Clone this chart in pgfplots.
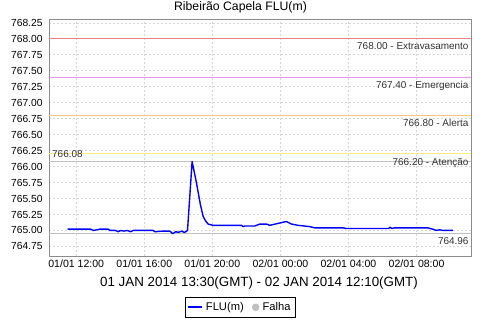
\documentclass[border=0pt]{standalone}
\usepackage{fontspec}
\setmainfont{Liberation Sans}
\usepackage{pgfplots}
\pgfplotsset{compat=1.18}
\definecolor{thrRed}{RGB}{230,130,130}
\definecolor{thrViolet}{RGB}{230,150,230}
\definecolor{thrOrange}{RGB}{255,195,125}
\definecolor{thrYellow}{RGB}{255,236,130}
\definecolor{mmGray}{RGB}{192,192,192}
\definecolor{gridGray}{RGB}{215,215,215}
\definecolor{axGray}{RGB}{140,140,140}
\begin{document}
\begin{tikzpicture}
\path[use as bounding box, fill=white] (0,0) rectangle (480bp,320bp);
\node[anchor=base, inner sep=0pt, font=\fontsize{12.3}{14}\selectfont] at (240.5bp,309.7bp) {Ribeirão Capela FLU(m)};
\begin{axis}[
  at={(49bp,64bp)}, anchor=south west,
  scale only axis, width=422bp, height=237bp,
  xmin=10.4, xmax=35.2, ymin=764.60, ymax=768.31,
  xtick={12,16,20,24,28,32},
  xticklabels={01/01 12:00,01/01 16:00,01/01 20:00,02/01 00:00,02/01 04:00,02/01 08:00},
  ytick={764.75,765,765.25,765.5,765.75,766,766.25,766.5,766.75,767,767.25,767.5,767.75,768,768.25},
  /pgf/number format/assume math mode=true,
  yticklabel style={/pgf/number format/fixed, /pgf/number format/fixed zerofill, /pgf/number format/precision=2, /pgf/number format/1000 sep={}, anchor=east, inner sep=0pt, xshift=-6.3bp, font=\fontsize{10.3}{12}\selectfont},
  xticklabel style={anchor=base, inner sep=0pt, yshift=-11.3bp, font=\fontsize{10.6}{12}\selectfont},
  major tick length=0pt,
  grid=major,
  major grid style={dash pattern=on 2bp off 2bp, color=gridGray, line width=0.6bp},
  axis line style={color=axGray, line width=0.8bp},
  xlabel={01 JAN 2014 13:30(GMT) - 02 JAN 2014 12:10(GMT)},
  xlabel style={at={(axis description cs:0.4976,0)}, anchor=base, inner sep=0pt, yshift=-30.6bp, font=\fontsize{13.4}{15}\selectfont},
  legend columns=2,
  legend style={at={(axis description cs:0.4534,-0.2165)}, anchor=center, draw=black, line width=0.8bp, inner xsep=1.5bp, inner ysep=0.5bp, font=\fontsize{11.2}{13}\selectfont, nodes={inner xsep=3bp, inner ysep=5bp}, /tikz/every even column/.append style={column sep=5bp}},
  legend cell align=left,
]
% thresholds
\addplot[forget plot, color=thrRed, line width=1bp] coordinates {(10.4,768.00) (35.2,768.00)};
\addplot[forget plot, color=thrViolet, line width=1bp] coordinates {(10.4,767.40) (35.2,767.40)};
\addplot[forget plot, color=thrOrange, line width=1bp] coordinates {(10.4,766.80) (35.2,766.80)};
\addplot[forget plot, color=thrYellow, line width=1bp] coordinates {(10.4,766.20) (35.2,766.20)};
% max / min
\addplot[forget plot, color=mmGray, line width=1bp] coordinates {(10.4,766.08) (35.2,766.08)};
\addplot[forget plot, color=mmGray, line width=1bp] coordinates {(10.4,764.96) (35.2,764.96)};
% series
\addplot[color=blue, line width=1.4bp, line join=round,
  legend image code/.code={\draw[blue, line width=1.8bp] (0bp,0bp) -- (14bp,0bp);}]
coordinates {
(11.5,765.02) (12.86,765.02) (13.0,765.00) (13.39,765.02) (13.88,765.02) (13.98,765.00)
(14.3,765.00) (14.47,764.98) (14.6,765.00) (14.8,764.99) (15.0,765.00) (15.2,764.98)
(15.35,765.00) (15.55,765.00) (16.52,765.00) (16.62,764.98) (17.1,764.99) (17.5,764.99)
(17.66,764.95) (17.85,764.98) (18.0,764.97) (18.2,764.99) (18.35,764.97) (18.44,764.98)
(18.54,765.00) (18.81,766.08) (19.07,765.74) (19.3,765.40) (19.46,765.22) (19.6,765.15)
(19.75,765.10) (20.04,765.08) (21.71,765.08) (21.81,765.06) (21.9,765.07) (22.5,765.07)
(22.79,765.10) (23.18,765.10) (23.37,765.08) (23.86,765.11) (24.35,765.14) (24.65,765.10)
(25.04,765.08) (25.72,765.06) (26.02,765.04) (27.68,765.04) (27.88,765.03) (30.35,765.03)
(30.45,765.05) (30.55,765.03) (30.71,765.04) (32.67,765.04) (32.96,765.02) (33.16,765.00)
(33.36,765.01) (33.55,765.00) (34.14,765.00)
};
\addlegendentry{FLU(m)}
\addlegendimage{legend image code/.code={\fill[white] (0bp,-3.5bp) rectangle (7bp,3.5bp); \fill[mmGray] (3.5bp,0bp) circle (3.3bp);}}
\addlegendentry{Falha}
% labels
\node[anchor=north east, inner sep=0pt, xshift=-2.3bp, yshift=-4bp, font=\fontsize{10}{12}\selectfont, text=black!80] at (axis cs:35.2,768.00) {768.00 - Extravasamento};
\node[anchor=north east, inner sep=0pt, xshift=-2.3bp, yshift=-4bp, font=\fontsize{10}{12}\selectfont, text=black!80] at (axis cs:35.2,767.40) {767.40 - Emergencia};
\node[anchor=north east, inner sep=0pt, xshift=-2.3bp, yshift=-4bp, font=\fontsize{10}{12}\selectfont, text=black!80] at (axis cs:35.2,766.80) {766.80 - Alerta};
\node[anchor=north east, inner sep=0pt, xshift=-2.3bp, yshift=-4bp, font=\fontsize{10}{12}\selectfont, text=black!80] at (axis cs:35.2,766.20) {766.20 - Atenção};
\node[anchor=north east, inner sep=0pt, xshift=-2.3bp, yshift=-4bp, font=\fontsize{10}{12}\selectfont, text=black!80] at (axis cs:35.2,764.96) {764.96};
\node[anchor=south west, inner sep=0pt, xshift=3bp, yshift=3.5bp, font=\fontsize{10}{12}\selectfont, text=black!80] at (axis cs:10.4,766.08) {766.08};
\end{axis}
\end{tikzpicture}
\end{document}
